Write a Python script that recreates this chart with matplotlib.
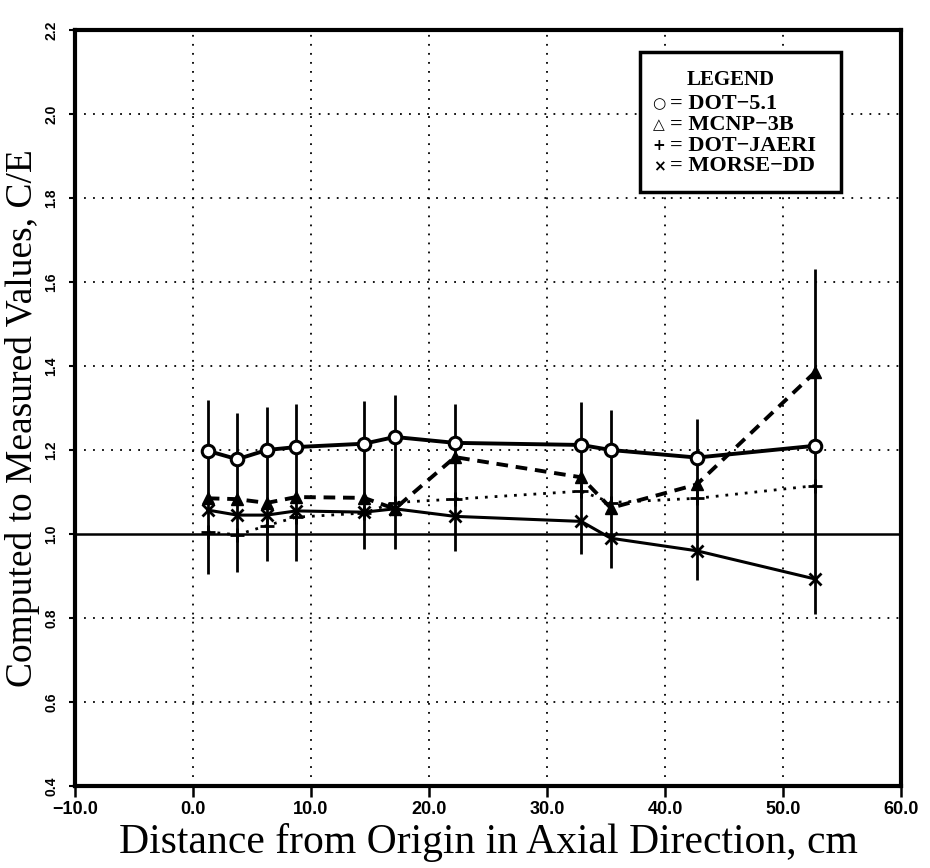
import matplotlib
matplotlib.use("Agg")
import matplotlib.pyplot as plt
from matplotlib.patches import Rectangle

# ---- data ----
x_pos = [1.25, 3.75, 6.25, 8.75, 14.5, 17.1, 22.2, 32.9, 35.4, 42.7, 52.7]
dot51 = [1.198, 1.178, 1.200, 1.207, 1.215, 1.231, 1.217, 1.212, 1.200, 1.182, 1.210]
mcnp3b = [1.085, 1.083, 1.074, 1.088, 1.086, 1.060, 1.183, 1.135, 1.062, 1.118, 1.385]
dotjaeri = [1.005, 0.998, 1.020, 1.040, 1.050, 1.075, 1.083, 1.102, 1.075, 1.085, 1.115]
morsedd = [1.057, 1.045, 1.045, 1.055, 1.052, 1.060, 1.042, 1.030, 0.990, 0.960, 0.893]
err_hi = [1.318, 1.288, 1.302, 1.310, 1.317, 1.330, 1.310, 1.315, 1.296, 1.275, 1.630]
err_lo = [0.905, 0.910, 0.935, 0.935, 0.965, 0.965, 0.960, 0.953, 0.918, 0.890, 0.810]
x_ticks = [-10, 0, 10, 20, 30, 40, 50, 60]
x_ticklabels = ["\u221210.0", "0.0", "10.0", "20.0", "30.0", "40.0", "50.0", "60.0"]
y_ticks = [0.4, 0.6, 0.8, 1.0, 1.2, 1.4, 1.6, 1.8, 2.0, 2.2]
y_ticklabels = ["0.4", "0.6", "0.8", "1.0", "1.2", "1.4", "1.6", "1.8", "2.0", "2.2"]
legend_title = "LEGEND"
legend_symbols = ["\u25cb", "\u25b3", "+", "\u00d7"]
legend_names = ["= DOT\u22125.1", "= MCNP\u22123B", "= DOT\u2212JAERI", "= MORSE\u2212DD"]
xlabel = "Distance from Origin in Axial Direction, cm"
ylabel = "Computed to Measured Values, C/E"

W, H = 930, 868
AX_L, AX_R, AX_T, AX_B = 75, 901, 30, 786

fig = plt.figure(figsize=(W / 100, H / 100), dpi=100)
ax = fig.add_axes([AX_L / W, 1 - AX_B / H, (AX_R - AX_L) / W, (AX_B - AX_T) / H])
ax.set_xlim(-10, 60)
ax.set_ylim(0.4, 2.2)

# grid
for gx in x_ticks[1:-1]:
    ax.axvline(gx, color="black", lw=1.3, ls=(0, (1, 4)), zorder=1)
for gy in y_ticks[1:-1]:
    if abs(gy - 1.0) < 1e-9:
        ax.axhline(gy, color="black", lw=1.8, ls="-", zorder=1)
    else:
        ax.axhline(gy, color="black", lw=1.3, ls=(0, (1, 4)), zorder=1)

# error bars
ax.vlines(x_pos, err_lo, err_hi, color="black", lw=2.0, zorder=2)

# series
ax.plot(x_pos, dot51, color="black", lw=2.8, ls="-", marker="o", ms=9,
        mfc="white", mec="black", mew=2.2, zorder=4)
ax.plot(x_pos, mcnp3b, color="black", lw=2.8, ls=(0, (3, 2)), marker="^", ms=8,
        mfc="black", mec="black", zorder=3)
ax.plot(x_pos, dotjaeri, color="black", lw=2.0, ls=(0, (1, 2.5)), marker="+", ms=10,
        mew=2, zorder=3)
ax.plot(x_pos, morsedd, color="black", lw=2.2, ls="-", marker="x", ms=9,
        mew=2, zorder=3)

# ticks
ax.set_xticks(x_ticks)
ax.set_xticklabels(x_ticklabels, fontfamily="Liberation Sans", fontweight="bold", fontsize=13)
ax.set_yticks(y_ticks)
ax.set_yticklabels(y_ticklabels, fontfamily="Liberation Sans", fontweight="bold",
                   fontsize=10, rotation=90, va="center")
ax.tick_params(axis="x", direction="out", length=8, width=1.8, pad=3)
ax.tick_params(axis="y", direction="out", length=4, width=1.5, pad=8)
for s in ax.spines.values():
    s.set_linewidth(3.0)

fig.text((AX_L + AX_R) / 2 / W, 1 - 843 / H, xlabel, ha="center", va="center",
         fontfamily="Liberation Serif", fontsize=30)
fig.text(23 / W, 1 - 418 / H, ylabel, ha="center", va="center", rotation=90,
         fontfamily="Liberation Serif", fontsize=27)

# legend box (pixel -> axes fraction)
def axf(px, py):
    return (px - AX_L) / (AX_R - AX_L), 1 - (py - AX_T) / (AX_B - AX_T)

bx0, by0 = axf(640, 192)
bx1, by1 = axf(841, 52)
ax.add_patch(Rectangle((bx0, by0), bx1 - bx0, by1 - by0, transform=ax.transAxes, fill=True,
                       facecolor="white", edgecolor="black", lw=2.5, zorder=6))
tx, ty = axf(731, 80)
ax.text(tx, ty, legend_title, transform=ax.transAxes, ha="center", va="center",
        fontfamily="Liberation Serif", fontweight="bold", fontsize=15, zorder=7)
for i, (sym, name) in enumerate(zip(legend_symbols, legend_names)):
    sx, sy = axf(659, 104 + i * 20.8)
    ax.text(sx, sy, sym, transform=ax.transAxes, ha="center", va="center",
            fontfamily="DejaVu Sans", fontweight="bold", fontsize=11, zorder=7)
    nx, ny = axf(670, 104 + i * 20.8)
    ax.text(nx, ny, name, transform=ax.transAxes, ha="left", va="center",
            fontfamily="Liberation Serif", fontweight="bold", fontsize=16, zorder=7)

fig.savefig("out.png", dpi=100)
